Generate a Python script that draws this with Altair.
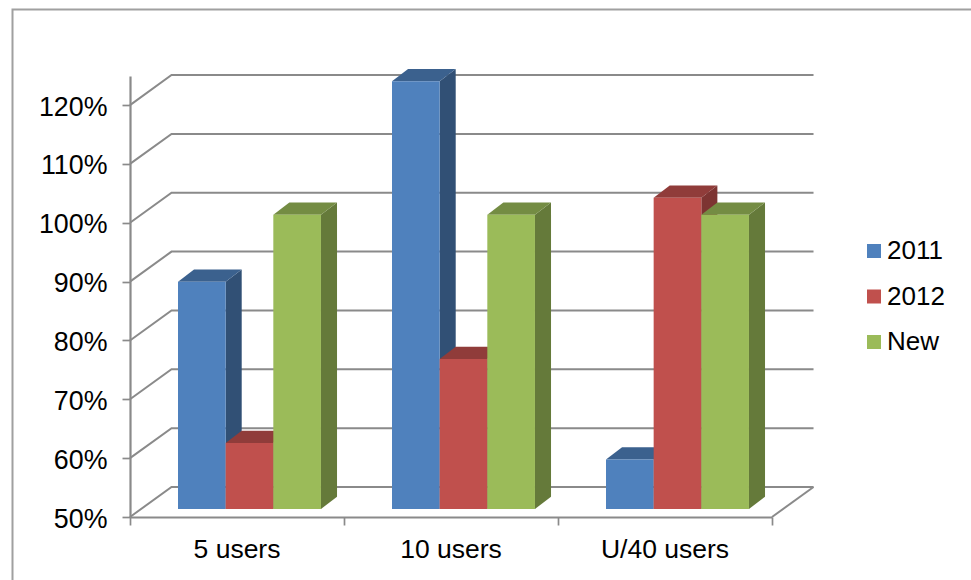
import altair as alt
import pandas as pd

categories = ["5 users", "10 users", "U/40 users"]
series = ["2011", "2012", "New"]
values_2011 = [88.6, 122.7, 58.4]
values_2012 = [61.2, 75.5, 102.9]
values_new = [100, 100, 100]
y_ticks = [50, 60, 70, 80, 90, 100, 110, 120]

front_colors = ["#4F81BD", "#C0504D", "#9BBB59"]
top_colors = ["#3B618E", "#903C3A", "#748C43"]
side_colors = ["#315075", "#7D3432", "#657A3A"]

FONT = "Liberation Sans"
GREY = "#8A8A8A"

# Oblique projection of the chart's third dimension, in data units
WALL_DX, WALL_DY = 0.194, 5.1
BAR_DX, BAR_DY = 0.075, 2.09
BAR_LIFT = 1.36          # bars stand part-way back on the floor
BAR_START, BAR_W = 0.2243, 0.2227

x_scale = alt.Scale(domain=[0, 3], nice=False, zero=False)
y_scale = alt.Scale(domain=[50, 124.94], nice=False, zero=False)
color_scale = alt.Scale(domain=series, range=front_colors)

x_axis = alt.Axis(
    values=[0, 1, 2, 3], labels=False, grid=False, tickSize=8, title=None,
    tickColor=GREY, tickWidth=1.7, domainColor=GREY, domainWidth=2.2,
)
y_axis = alt.Axis(
    values=y_ticks, labelExpr="datum.value + '%'", grid=False, title=None,
    tickSize=8, tickColor=GREY, tickWidth=1.7, domainColor=GREY,
    domainWidth=2.2, labelFont=FONT, labelFontSize=26.8,
    labelColor="black", labelPadding=15, labelOffset=2,
)

# Every layer carries the same axis definition so they merge into one pair
X = alt.X("x:Q", scale=x_scale, axis=x_axis)
Y = alt.Y("y:Q", scale=y_scale, axis=y_axis)
Y2 = alt.Y2("y2:Q")

# Back wall grid: each level runs up the side wall and then along the back
grid_rows = []
for v in y_ticks:
    grid_rows += [
        {"level": v, "x": 0, "y": v},
        {"level": v, "x": WALL_DX, "y": v + WALL_DY},
        {"level": v, "x": 3 + WALL_DX, "y": v + WALL_DY},
    ]
grid_rows += [
    {"level": 0, "x": 3, "y": 50},
    {"level": 0, "x": 3 + WALL_DX, "y": 50 + WALL_DY},
]

grid = alt.Chart(pd.DataFrame(grid_rows)).mark_line(
    color=GREY, strokeWidth=2
).encode(x=X, y=Y, detail="level:N")

# Outer border, open past the right and bottom edges of the page
frame = alt.Chart(pd.DataFrame({"x": [0], "y": [50]})).mark_rect(
    fillOpacity=0, stroke="#A0A0A0", strokeWidth=2
).encode(
    x=alt.value(-117.5), x2=alt.value(900),
    y=alt.value(-66.5), y2=alt.value(560),
)

layers = [frame, grid]
for j, (name, vals) in enumerate(zip(series, [values_2011, values_2012, values_new])):
    front, side, top = [], [], []
    for i, (cat, v) in enumerate(zip(categories, vals)):
        xl = i + BAR_START + j * BAR_W
        xr = xl + BAR_W
        t = v + BAR_LIFT
        b = 50 + BAR_LIFT
        front.append({"series": name, "x": xl, "x2": xr, "y": t, "y2": b})
        side += [
            {"bar": i, "x": xr, "y": t, "y2": b},
            {"bar": i, "x": xr + BAR_DX, "y": t + BAR_DY, "y2": b + BAR_DY},
        ]
        top += [
            {"bar": i, "x": xl, "y": t, "y2": t},
            {"bar": i, "x": xl + BAR_DX, "y": t + BAR_DY, "y2": t},
            {"bar": i, "x": xr, "y": t + BAR_DY, "y2": t},
            {"bar": i, "x": xr + BAR_DX, "y": t + BAR_DY, "y2": t + BAR_DY},
        ]
    layers.append(
        alt.Chart(pd.DataFrame(side)).mark_area(color=side_colors[j], opacity=1).encode(
            x=X, y=Y, y2=Y2, detail="bar:N"
        )
    )
    layers.append(
        alt.Chart(pd.DataFrame(top)).mark_area(color=top_colors[j], opacity=1).encode(
            x=X, y=Y, y2=Y2, detail="bar:N"
        )
    )
    layers.append(
        alt.Chart(pd.DataFrame(front)).mark_rect().encode(
            x=X,
            x2=alt.X2("x2:Q"),
            y=Y,
            y2=Y2,
            color=alt.Color(
                "series:N",
                scale=color_scale,
                legend=alt.Legend(
                    title=None, orient="none", legendX=731, legendY=162,
                    symbolType="square", symbolSize=196, symbolStrokeWidth=0,
                    labelFont=FONT, labelFontSize=26, labelColor="black",
                    labelOffset=0, rowPadding=19.5,
                ),
            ),
        )
    )

labels = alt.Chart(
    pd.DataFrame({"x": [i + 0.5 for i in range(3)], "label": categories})
).mark_text(
    font=FONT, fontSize=26.5, color="black", baseline="middle"
).encode(x=X, y=alt.value(474), text="label:N")
layers.append(labels)

chart = alt.layer(*layers).properties(
    width=642,
    height=441,
    padding={"left": 130, "top": 76, "right": 199, "bottom": 63},
    autosize=alt.AutoSizeParams(type="none"),
    background="white",
).configure_view(stroke=None)

chart.save("out.html", embed_options={"renderer": "svg", "actions": False})
